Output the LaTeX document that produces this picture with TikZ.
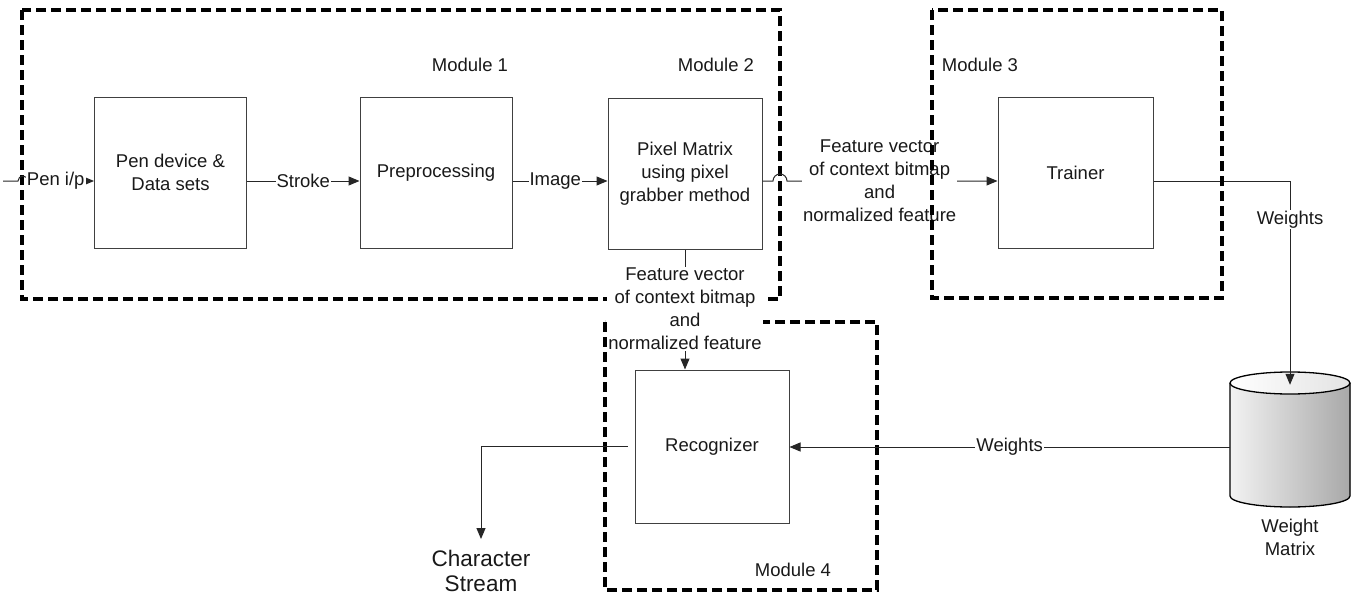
\documentclass[tikz,border=0pt]{standalone}
\usepackage{fontspec}
\setmainfont{Liberation Sans}
\usetikzlibrary{arrows.meta,calc}
\begin{document}
\begin{tikzpicture}[x=1pt,y=-1pt,
  lbl/.style={font=\fontsize{18.5}{23}\selectfont, text=black!90},
  box/.style={draw=black!75, line width=1pt, inner sep=0pt, align=center, minimum width=152pt, minimum height=151pt, lbl},
  mod/.style={draw=black, line width=3.2pt, dash pattern=on 10pt off 5pt},
  arr/.style={draw=black!85, line width=1pt, -{Triangle[length=11pt,width=9pt]}},
  tag/.style={lbl, fill=white, inner sep=1pt, align=center},
  big/.style={font=\fontsize{22.5}{25}\selectfont, text=black!90, align=center, inner sep=0pt},
]
\useasboundingbox (0,0) rectangle (1353,597);

% module frames (1 & 4 first, label covers them)
\draw[mod] (22,10) rectangle (780,299);
\draw[mod] (605,322) rectangle (877,590);

% boxes
\node[box] (pen) at (170.5,172.5) {Pen device \&\\Data sets};
\node[box] (pre) at (436,172.5) {Preprocessing};
\node[box, minimum width=154pt] (pix) at (685,174) {Pixel Matrix\\using pixel\\grabber method};
\node[box, minimum width=155pt] (tr) at (1075.5,172.5) {Trainer};
\node[box, minimum width=154pt, minimum height=153pt] (rec) at (712,446.5) {Recognizer};

% module labels
\node[lbl] (m1) at (470,65) {Module 1};
\node[lbl] (m2) at (716,65) {Module 2};
\node[lbl] (m3) at (980,65) {Module 3};
\node[lbl] (m4) at (793,570) {Module 4};

% weight matrix cylinder
\node[inner sep=0pt, minimum width=120pt, minimum height=124pt] (wm) at (1290,447) {};
\fill[left color=gray!10, right color=gray!68] (1230,383) -- (1230,496) arc[start angle=180,end angle=0,x radius=60,y radius=11] -- (1350,383) -- cycle;
\draw[line width=1.3pt] (1230,383) -- (1230,496) arc[start angle=180,end angle=0,x radius=60,y radius=11] -- (1350,383);
\draw[line width=1.3pt, left color=white, right color=gray!22] (1290,383) ellipse[x radius=60, y radius=11];
\node[lbl, align=center] (wmt) at (1290,537) {Weight\\Matrix};

% connectors
\coordinate (ya) at (0,181);
\coordinate (in) at (3,181);
\draw[arr] (in) -- (18,181) arc[start angle=180,end angle=360,radius=5] -- node[tag, pos=0.42] (lp) {Pen i/p} (pen.west |- ya);
\draw[arr] (pen.east |- ya) -- node[tag] (ls) {Stroke} (pre.west |- ya);
\draw[arr] (pre.east |- ya) -- node[tag, pos=0.45] (li) {Image} (pix.west |- ya);
\draw[arr] (pix.east |- ya) -- (773,181) arc[start angle=180,end angle=360,radius=7] -- node[tag, pos=0.44] (lf) {Feature vector\\of context bitmap\\and\\normalized feature} (tr.west |- ya);
\draw[arr] (pix.south) -- node[tag, pos=0.49] (lv) {Feature vector\\of context bitmap\\and\\normalized feature} (pix.south |- rec.north);
\draw[arr] (tr.east |- ya) -- (wm.north |- ya) -- node[tag, pos=0.19] (lw1) {Weights} (wm.north);
\draw[arr] (wm.west) -- node[tag] (lw2) {Weights} (rec.east |- wm.west);

\node[big] (cs) at (481,571) {Character\\Stream};
\draw[arr] ([xshift=-7pt]rec.west) -| ([yshift=11pt]cs.north);

% module 3 frame drawn over its label
\draw[mod] (932,10) rectangle (1222,298);
\end{tikzpicture}
\end{document}
